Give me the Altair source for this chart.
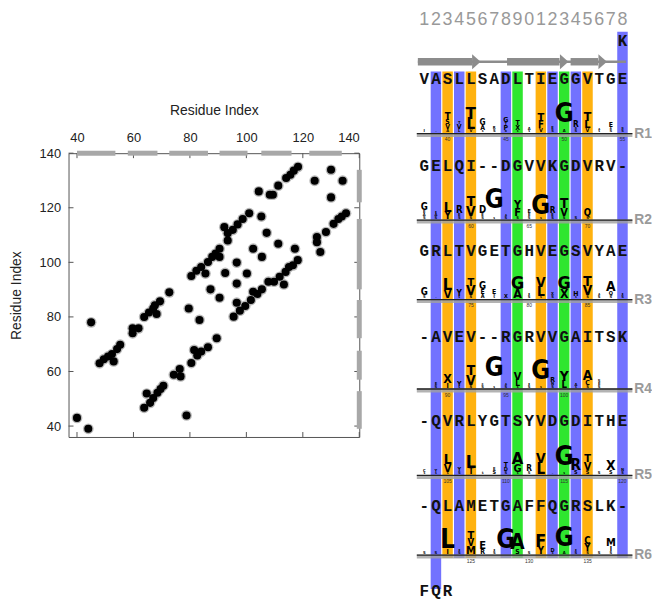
import altair as alt
import pandas as pd

# ---------------- left panel: contact map ----------------
CONTACT_X = [40, 44, 45, 48, 49.5, 51, 52.4, 53, 54.2, 55.3,
             59.7, 59.7, 61.8, 63.8, 65.5, 67, 68.2, 69.4, 67.6, 72.7,
             63.8, 64.7, 65.9, 67, 68.5, 69.6, 70.6, 74.3, 76.7, 76.4,
             78.8, 79.6, 80.5, 81.5, 82.6, 83.4, 84, 86.4, 89.5,
             80.5, 82.3, 84, 85.5, 86.4, 87.9, 89.1, 90.5, 90.5, 92.5, 87.3, 90.5,
             92.2, 93.4, 93.4, 95.2, 96.9, 98.7, 101,
             96.6, 96.6, 96.6, 95.5, 97.7, 99.6, 100.2, 101.6, 102.4, 102.4, 103.9, 105.5,
             105.5, 105.3, 104.4, 107.2, 108.3, 109.4, 111.3, 111.3,
             107.8, 109.8, 111.8, 113.3, 113.9, 115.1, 116.5, 117.2, 118.2,
             114.1, 115.6, 116.8, 118.3, 124.2, 125, 125, 126.2, 128.2, 130, 130,
             130.9, 132.6, 134.1, 133.8, 135.3]
CONTACT_Y = [43, 39, 78, 63, 64.5, 65.5, 66.4, 63.7, 68.2, 69.8,
             75.8, 74, 75.8, 80, 81.6, 83.1, 81.1, 85.7, 84.3, 89,
             46.7, 51.9, 48.5, 50.3, 52.2, 53.6, 54.8, 58.8, 58.2, 60.9,
             43.9, 83.1, 63.1, 67.9, 65.9, 78.9, 67.3, 68.9, 72.2,
             95, 96.9, 98.3, 95.9, 100.1, 102, 103.2, 102, 105, 96.1, 90.1, 87,
             112.9, 108, 110.7, 111.9, 113.9, 115.9, 118,
             99.9, 92.2, 85.2, 80.1, 82.3, 84, 95.9, 86.2, 89.2, 105, 88.4, 90.1,
             102, 116.8, 126, 110.8, 124.8, 124.8, 128.1, 106.8,
             92.9, 92.9, 94.7, 91.9, 96.5, 98.3, 98.9, 105, 100.8,
             130.9, 132.1, 133.6, 135, 129.9, 109.3, 107.4, 103.8, 111.1, 133.9, 123.8,
             114.1, 115.9, 129.9, 116.8, 118]
AXIS_TICKS = [40, 60, 80, 100, 120, 140]
TOP_DASH_START = [40.0, 58.0, 72.7, 90.5, 105.3, 122.3]
TOP_DASH_END = [53.6, 68.5, 86.4, 100.4, 116.0, 133.8]
RIGHT_DASH_START = [39.0, 57.0, 72.2, 90.1, 122.0]
RIGHT_DASH_END = [52.8, 67.6, 86.2, 115.9, 133.9]

# ---------------- right panel: alignment / logo ----------------
HEADER_DIGITS = list("123456789012345678")
SEQ_ROWS = ["VASLLSADLTIEGGVTGE", "GELQI--DGVVKGDVRV-", "GRLTVGETGHVEGSVYAE",
            "-AVEV--RGRVVGAITSK", "-QVRLYGTSYVDGDITHE", "-QLAMETGAFFQGRSLK-"]
ROW_NAMES = ["R1", "R2", "R3", "R4", "R5", "R6"]
ROW_TEXT_Y = [71, 160, 248, 336, 423, 511]
ROW_LINE_Y = [127, 216, 298, 390, 479, 561]
NUM_LABELS = [[40, 45, 50, 55], [60, 65, 70], [75, 80, 85], [90, 95, 100],
              [105, 110, 115, 120], [125, 130, 135]]
NUM_COLS = [[2, 7, 12, 17], [4, 9, 14], [4, 9, 14], [2, 7, 12], [2, 7, 12, 17], [4, 9, 14]]
BAR_COLS = [1, 2, 3, 4, 7, 8, 10, 11, 12, 13, 14, 17]
BAR_GROUP = ["B", "O", "B", "O", "B", "G", "O", "B", "G", "B", "O", "B"]
BAR_TOP = [63, 63, 63, 63, 63, 63, 63, 63, 63, 63, 63, 22]
BAR_BOTTOM = [596, 564, 564, 564, 564, 564, 564, 564, 564, 564, 564, 564]
STRAND_START = [-0.55, 7.1, 12.55]
STRAND_BODY_END = [4.13, 11.6, 14.9]
STRAND_HEAD = [4.47, 12.0, 15.3]
SS_LINE = [-0.55, 17.3]
TOP_EXTRA = ["K"]
TOP_EXTRA_COLS = [17]
BOTTOM_EXTRA = ["F", "Q", "R"]
BOTTOM_EXTRA_COLS = [0, 1, 2]

LOGO_R1 = [(0, "I", 3), (1, "-", 2),
           (2, "A", 3), (2, "V", 5), (2, "S", 5), (2, "T", 7),
           (3, "L", 3), (3, "V", 5), (3, "T", 3),
           (4, "V", 3), (4, "L", 11), (4, "T", 12),
           (5, "S", 2), (5, "A", 5), (5, "G", 6),
           (6, "S", 3), (6, "R", 3),
           (7, "N", 2), (7, "P", 5), (7, "T", 3), (7, "G", 5),
           (8, "S", 2), (8, "X", 5), (8, "T", 5),
           (9, "S", 2), (9, "A", 3),
           (10, "V", 4), (10, "F", 7), (10, "T", 8),
           (11, "S", 3), (11, "E", 3),
           (12, "A", 3), (12, "G", 34),
           (13, "S", 3), (13, "N", 2), (13, "R", 6),
           (14, "V", 4), (14, "L", 8), (14, "T", 9),
           (15, "S", 2), (15, "A", 2),
           (16, "S", 3), (16, "A", 2), (16, "E", 5),
           (17, "S", 3), (17, "N", 2)]
LOGO_R2 = [(0, "S", 3), (0, "A", 3), (0, "E", 3), (0, "G", 7),
           (1, "S", 3), (1, "A", 3), (1, "E", 2),
           (2, "Y", 7), (2, "L", 10),
           (3, "S", 3), (3, "E", 3), (3, "R", 7),
           (4, "S", 3), (4, "V", 10), (4, "T", 10),
           (5, "S", 3), (5, "E", 3), (5, "D", 7),
           (6, "S", 2), (6, "G", 36),
           (7, "S", 3), (7, "A", 2),
           (8, "S", 3), (8, "F", 8), (8, "Y", 8),
           (9, "S", 3), (9, "E", 3), (9, "E", 4),
           (10, "S", 2), (10, "G", 25),
           (11, "S", 3), (11, "E", 3), (11, "R", 6),
           (12, "S", 3), (12, "V", 8), (12, "T", 10),
           (13, "S", 3),
           (14, "S", 3), (14, "Q", 7)]
LOGO_R3 = [(0, "S", 3), (0, "G", 7), (1, "-", 2),
           (2, "V", 8), (2, "L", 12),
           (3, "S", 2), (3, "Y", 6),
           (4, "S", 3), (4, "V", 10), (4, "T", 8),
           (5, "A", 4), (5, "E", 5), (5, "G", 7),
           (6, "S", 2), (6, "X", 2), (6, "E", 5),
           (7, "X", 4),
           (8, "A", 9), (8, "G", 13),
           (9, "S", 3), (9, "E", 2),
           (10, "S", 2), (10, "L", 10), (10, "V", 10),
           (11, "S", 3), (11, "X", 3),
           (12, "X", 9), (12, "G", 13),
           (13, "S", 2), (13, "H", 5),
           (14, "S", 3), (14, "V", 10), (14, "T", 10),
           (15, "S", 3), (15, "A", 2),
           (16, "S", 3), (16, "Q", 4), (16, "A", 10),
           (17, "S", 3), (17, "E", 2)]
LOGO_R4 = [(1, "S", 3), (1, "E", 3),
           (2, "I", 5), (2, "X", 9),
           (3, "S", 2), (3, "Y", 5),
           (4, "S", 3), (4, "V", 10), (4, "T", 10),
           (5, "S", 3), (5, "X", 2),
           (6, "S", 2), (6, "G", 38),
           (7, "S", 3), (7, "A", 2),
           (8, "S", 2), (8, "L", 6), (8, "V", 8),
           (9, "S", 3), (9, "E", 2),
           (10, "S", 2), (10, "G", 33),
           (11, "S", 3), (11, "N", 3), (11, "R", 5),
           (12, "L", 7), (12, "Y", 10),
           (13, "S", 2), (13, "A", 3),
           (14, "S", 3), (14, "C", 5), (14, "A", 10),
           (15, "S", 3), (15, "E", 3), (15, "S", 3)]
LOGO_R5 = [(0, "S", 2), (0, "C", 3),
           (1, "S", 2), (1, "Y", 3),
           (2, "S", 2), (2, "V", 8), (2, "L", 10),
           (3, "S", 3), (3, "Y", 4),
           (4, "T", 6), (4, "L", 13),
           (5, "S", 2), (5, "-", 2),
           (6, "S", 4), (6, "E", 3),
           (7, "S", 3), (7, "D", 4), (7, "T", 5),
           (8, "S", 2), (8, "G", 8), (8, "A", 12),
           (9, "S", 3), (9, "R", 6),
           (10, "L", 11), (10, "V", 10),
           (11, "-", 2),
           (12, "S", 2), (12, "G", 34),
           (13, "S", 4), (13, "R", 11),
           (14, "S", 4), (14, "V", 8), (14, "T", 8),
           (15, "S", 3),
           (16, "S", 4), (16, "X", 10),
           (17, "S", 3), (17, "N", 3)]
LOGO_R6 = [(0, "S", 3), (1, "S", 3),
           (2, "I", 5), (2, "L", 20),
           (3, "S", 3), (3, "E", 2),
           (4, "M", 8), (4, "V", 7), (4, "T", 8),
           (5, "R", 5), (5, "E", 8),
           (6, "S", 3), (6, "E", 2),
           (7, "G", 30),
           (8, "S", 5), (8, "A", 15),
           (9, "S", 3),
           (10, "Y", 7), (10, "F", 13),
           (11, "S", 2), (11, "D", 4),
           (12, "A", 3), (12, "G", 29),
           (13, "S", 3), (13, "E", 2),
           (14, "S", 3), (14, "Y", 7), (14, "C", 7),
           (15, "S", 3),
           (16, "S", 3), (16, "I", 5), (16, "M", 8)]
LOGOS = [LOGO_R1, LOGO_R2, LOGO_R3, LOGO_R4, LOGO_R5, LOGO_R6]

# ---------------- styling ----------------
SANS = "Liberation Sans"
NARROW = "Liberation Sans Narrow, DejaVu Sans Condensed, Liberation Sans, sans-serif"
MONO = "Liberation Mono"
BAR_COLORS = ["#7272ff", "#ffb20f", "#2fe62f"]
FMAX = 26

# ======== left chart ========
LW, LH = 293, 286
xs = alt.Scale(domain=[37, 140], nice=False, zero=False)
ys = alt.Scale(domain=[36, 140], nice=False, zero=False)
x_axis = alt.Axis(orient="top", values=AXIS_TICKS, title="Residue Index", grid=False,
                  ticks=False, tickSize=0, domain=False, labelPadding=9, titlePadding=14,
                  labelFontSize=13, titleFontSize=14, titleFontWeight="normal",
                  labelColor="#222", titleColor="#222", labelFont=SANS, titleFont=SANS)
y_axis = alt.Axis(orient="left", values=AXIS_TICKS, title="Residue Index", grid=False,
                  ticks=False, tickSize=0, domain=False, labelPadding=8, titlePadding=16,
                  labelFontSize=13, titleFontSize=14, titleFontWeight="normal",
                  labelColor="#222", titleColor="#222", labelFont=SANS, titleFont=SANS)


def LX(f):
    return alt.X(f, type="quantitative", scale=xs, axis=x_axis)


def LY(f):
    return alt.Y(f, type="quantitative", scale=ys, axis=y_axis)


pts = pd.DataFrame({"x": CONTACT_X, "y": CONTACT_Y})
top_d = pd.DataFrame({"x": TOP_DASH_START, "x2": TOP_DASH_END, "y": [140] * len(TOP_DASH_START)})
right_d = pd.DataFrame({"y": RIGHT_DASH_START, "y2": RIGHT_DASH_END, "x": [140] * len(RIGHT_DASH_START)})
tick_d = pd.DataFrame({"x": AXIS_TICKS, "y": AXIS_TICKS})

halo = alt.Chart(pts).mark_circle(size=118, color="#b9b9b9", opacity=1).encode(x=LX("x"), y=LY("y"))
dots = alt.Chart(pts).mark_circle(size=66, color="#000000", opacity=1).encode(x=LX("x"), y=LY("y"))
tdash = alt.Chart(top_d).mark_rule(color="#a8a8a8", strokeWidth=5).encode(x=LX("x"), x2="x2", y=LY("y"))
rdash = alt.Chart(right_d).mark_rule(color="#a8a8a8", strokeWidth=5).encode(y=LY("y"), y2="y2", x=LX("x"))
tk_top = alt.Chart(tick_d).mark_rule(color="#555").encode(x=LX("x"), y=alt.value(0), y2=alt.value(5))
tk_bot = alt.Chart(tick_d).mark_rule(color="#555").encode(x=LX("x"), y=alt.value(LH), y2=alt.value(LH - 5))
tk_left = alt.Chart(tick_d).mark_rule(color="#555").encode(y=LY("y"), x=alt.value(0), x2=alt.value(5))
tk_right = alt.Chart(tick_d).mark_rule(color="#555").encode(y=LY("y"), x=alt.value(LW - 5), x2=alt.value(LW))

scatter = alt.layer(tk_top, tk_bot, tk_left, tk_right, halo, dots, tdash, rdash).properties(
    width=LW, height=LH, view=alt.ViewBackground(stroke="#555", strokeWidth=1))

spacer = alt.Chart(pd.DataFrame({"v": [0]})).mark_point(opacity=0).encode(
    x=alt.X("v:Q", axis=None), y=alt.Y("v:Q", axis=None)).properties(
    width=LW, height=93, view=alt.ViewBackground(strokeWidth=0))

left = alt.vconcat(spacer, scatter, spacing=0)

# ======== right chart ========
RW, RH = 240, 595
cs = alt.Scale(domain=[-1.064, -1.064 + RW / 11.75], nice=False, zero=False)
rs = alt.Scale(domain=[0, 608], nice=False, zero=False, reverse=True)


def RX(f):
    return alt.X(f, type="quantitative", scale=cs, axis=None)


def RY(f):
    return alt.Y(f, type="quantitative", scale=rs, axis=None)


bars = pd.DataFrame({"a": [c - 0.45 for c in BAR_COLS], "b": [c + 0.45 for c in BAR_COLS],
                     "y": BAR_TOP, "y2": BAR_BOTTOM, "g": BAR_GROUP})
bar_l = alt.Chart(bars).mark_rect().encode(
    x=RX("a"), x2="b", y=RY("y"), y2="y2",
    color=alt.Color("g:N", scale=alt.Scale(domain=["B", "O", "G"], range=BAR_COLORS), legend=None))

ss_line = pd.DataFrame({"a": [SS_LINE[0]], "b": [SS_LINE[1]], "y": [53]})
ss_l = alt.Chart(ss_line).mark_rule(color="#8c8c8c", strokeWidth=2.5).encode(x=RX("a"), x2="b", y=RY("y"))
strands = pd.DataFrame({"a": STRAND_START, "b": STRAND_BODY_END, "h": STRAND_HEAD, "y": [53] * 3})
body_l = alt.Chart(strands).mark_rule(color="#8c8c8c", strokeWidth=7.5, strokeCap="butt").encode(
    x=RX("a"), x2="b", y=RY("y"))
head_l = alt.Chart(strands).mark_point(shape="M-0.57,-1L0.57,0L-0.57,1Z", filled=True, size=225,
                                       color="#8c8c8c", opacity=1).encode(x=RX("h"), y=RY("y"))

hdr = pd.DataFrame({"c": list(range(len(HEADER_DIGITS))), "t": HEADER_DIGITS, "y": [10] * len(HEADER_DIGITS)})
hdr_l = alt.Chart(hdr).mark_text(font=SANS, fontSize=18, color="#999999", baseline="middle",
                                 align="center").encode(x=RX("c"), y=RY("y"), text="t:N")

seq_rows = []
for r, s in enumerate(SEQ_ROWS):
    for c, ch in enumerate(s):
        seq_rows.append({"c": c, "y": ROW_TEXT_Y[r], "t": ch})
for ch, c in zip(TOP_EXTRA, TOP_EXTRA_COLS):
    seq_rows.append({"c": c, "y": 32, "t": ch})
for ch, c in zip(BOTTOM_EXTRA, BOTTOM_EXTRA_COLS):
    seq_rows.append({"c": c, "y": 598, "t": ch})
seq_l = alt.Chart(pd.DataFrame(seq_rows)).mark_text(font=MONO, fontWeight="bold", fontSize=16,
                                                    color="#111", baseline="middle", align="center").encode(
    x=RX("c"), y=RY("y"), text="t:N")

lines = pd.DataFrame({"a": [-0.64] * 6, "b": [17.85] * 6, "y": ROW_LINE_Y,
                      "ys": [v + 1.5 for v in ROW_LINE_Y], "n": ROW_NAMES, "lc": [18.0] * 6})
shadow_l = alt.Chart(lines).mark_rule(color="#a0a0a0", strokeWidth=4, opacity=0.8).encode(
    x=RX("a"), x2="b", y=RY("ys"))
line_l = alt.Chart(lines).mark_rule(color="#222", strokeWidth=1.3).encode(x=RX("a"), x2="b", y=RY("y"))
rlab_l = alt.Chart(lines).mark_text(font=SANS, fontWeight="bold", fontSize=14, color="#9a9a9a",
                                    align="left", baseline="middle").encode(x=RX("lc"), y=RY("y"), text="n:N")

nums = []
for r in range(len(NUM_LABELS)):
    for v, c in zip(NUM_LABELS[r], NUM_COLS[r]):
        nums.append({"c": c, "y": ROW_LINE_Y[r] + 6, "t": str(v)})
num_l = alt.Chart(pd.DataFrame(nums)).mark_text(font=SANS, fontSize=5, color="#333",
                                                baseline="middle", align="center").encode(
    x=RX("c"), y=RY("y"), text="t:N")

logo_rows = []
for r, stack in enumerate(LOGOS):
    cum = {}
    for c, letter, h in stack:
        below = cum.get(c, 0)
        f = min(h / 0.72, FMAX)
        cap = 0.72 * f
        bottom = ROW_LINE_Y[r] - 1.5 - below
        base = bottom - (h - cap) / 2
        logo_rows.append({"c": c, "y": base, "t": letter, "fs": f})
        cum[c] = below + h
logo_l = alt.Chart(pd.DataFrame(logo_rows)).mark_text(font=NARROW, fontWeight="bold", color="#000",
                                                      baseline="alphabetic", align="center").encode(
    x=RX("c"), y=RY("y"), text="t:N", size=alt.Size("fs:Q", scale=None, legend=None))

right = alt.layer(bar_l, ss_l, body_l, head_l, hdr_l, shadow_l, line_l, logo_l, seq_l, rlab_l, num_l).properties(
    width=RW, height=RH, view=alt.ViewBackground(strokeWidth=0))

chart = alt.hconcat(left, right, spacing=50).properties(padding=0).configure(font=SANS).configure_view(
    strokeWidth=0)

chart.save("out.html", embed_options={"renderer": "svg", "actions": False})
